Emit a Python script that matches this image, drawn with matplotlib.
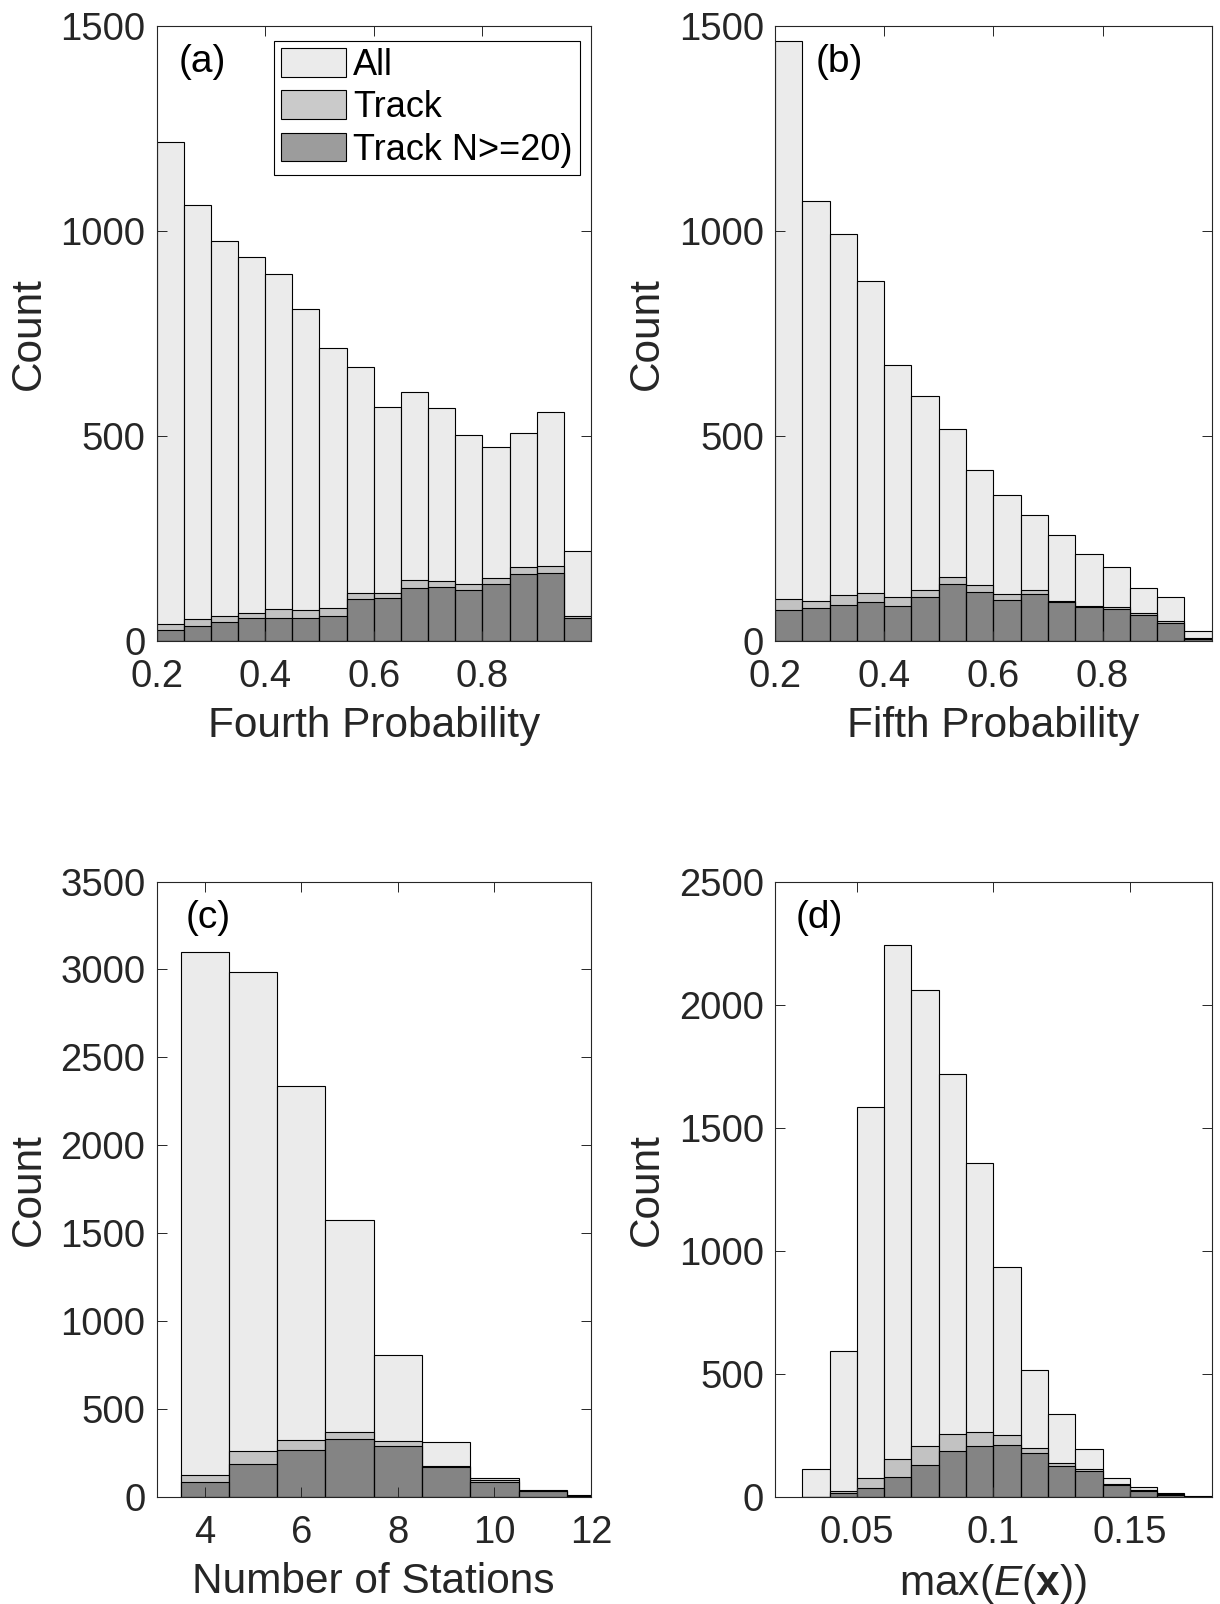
import matplotlib
matplotlib.use("Agg")
import matplotlib.pyplot as plt
import numpy as np

plt.rcParams['font.family'] = ['Liberation Sans', 'DejaVu Sans']
plt.rcParams['mathtext.fontset'] = 'custom'
plt.rcParams['mathtext.rm'] = 'Liberation Sans'
plt.rcParams['mathtext.it'] = 'Liberation Sans:italic'
plt.rcParams['mathtext.bf'] = 'Liberation Sans:bold'

# bin edges
edges_p4 = np.arange(0.2, 1.0001, 0.05)
edges_p5 = np.arange(0.2, 1.0001, 0.05)
edges_sta = np.arange(3.5, 12.51, 1.0)
edges_err = np.arange(0.03, 0.1801, 0.01)

# fourth probability
all_p4 = [1215, 1063, 976, 937, 894, 808, 713, 668, 570, 606, 567, 502, 472, 506, 557, 219]
track_p4 = [42, 53, 61, 69, 78, 76, 81, 118, 116, 149, 147, 139, 154, 180, 182, 60]
n20_p4 = [27, 37, 46, 57, 55, 55, 62, 103, 105, 128, 132, 125, 140, 164, 166, 57]

# fifth probability
all_p5 = [1462, 1073, 991, 877, 673, 597, 516, 416, 355, 306, 258, 212, 181, 130, 106, 25]
track_p5 = [103, 98, 111, 116, 106, 123, 155, 136, 114, 123, 98, 86, 83, 67, 49, 8]
n20_p5 = [75, 81, 88, 95, 84, 108, 139, 119, 100, 115, 95, 82, 77, 63, 43, 5]

# number of stations (4..12)
all_sta = [3100, 2985, 2337, 1576, 810, 313, 110, 42, 9]
track_sta = [128, 259, 327, 367, 319, 177, 95, 37, 6]
n20_sta = [83, 190, 270, 329, 289, 171, 87, 34, 5]

# max(E(x))
all_err = [115, 592, 1584, 2242, 2059, 1719, 1355, 934, 514, 338, 195, 76, 41, 15, 5]
track_err = [0, 24, 76, 156, 206, 257, 264, 253, 200, 139, 112, 53, 30, 11, 2]
n20_err = [0, 16, 38, 83, 130, 187, 206, 210, 177, 127, 106, 47, 23, 9, 1]

series_names = ['All', 'Track', 'Track N>=20)']
shades = [0.875, 0.66, 0.355]
face_alpha = 0.6
txt = '#262626'


def draw_hist(ax, edges, counts_list):
    widths = np.diff(edges)
    handles = []
    for counts, shade, name in zip(counts_list, shades, series_names):
        bars = ax.bar(edges[:-1], counts, width=widths, align='edge',
                      facecolor=(shade, shade, shade, face_alpha),
                      edgecolor='k', linewidth=0.8, label=name)
        handles.append(bars)
    return handles


def style_axes(ax, xlim, xticks, xticklabels, ylim, yticks, xlabel, tag, tag_x):
    ax.set_xlim(*xlim)
    ax.set_ylim(*ylim)
    ax.set_xticks(xticks)
    ax.set_xticklabels(xticklabels)
    ax.set_yticks(yticks)
    ax.tick_params(direction='in', length=7, width=0.7, top=True, right=True,
                   labelsize=27.5, colors=txt)
    ax.tick_params(axis='x', pad=13)
    ax.tick_params(axis='y', pad=8)
    for sp in ax.spines.values():
        sp.set_linewidth(0.8)
        sp.set_color(txt)
    ax.set_xlabel(xlabel, fontsize=30.5, color=txt)
    ax.set_ylabel('Count', fontsize=30.5, color=txt)
    ax.xaxis.set_label_coords(0.5, -0.106)
    ax.yaxis.set_label_coords(-0.248, 0.5)
    ax.text(tag_x, 0.94, tag, transform=ax.transAxes, fontsize=28,
            ha='left', va='center', color='k')


fig = plt.figure(figsize=(12.2, 16.04), dpi=100)
ax_a = fig.add_axes([0.1283, 0.6004, 0.3561, 0.3837])
ax_b = fig.add_axes([0.6352, 0.6004, 0.3580, 0.3837])
ax_c = fig.add_axes([0.1283, 0.0667, 0.3561, 0.3837])
ax_d = fig.add_axes([0.6352, 0.0667, 0.3580, 0.3837])

handles = draw_hist(ax_a, edges_p4, [all_p4, track_p4, n20_p4])
style_axes(ax_a, (0.2, 1.0), [0.2, 0.4, 0.6, 0.8], ['0.2', '0.4', '0.6', '0.8'],
           (0, 1500), [0, 500, 1000, 1500], 'Fourth Probability', '(a)', 0.052)
leg = ax_a.legend(handles=handles, loc='upper right', bbox_to_anchor=(0.9745, 0.975),
                  borderaxespad=0, fontsize=26, fancybox=False, edgecolor='k',
                  framealpha=1, handlelength=1.8, handleheight=0.85,
                  labelspacing=0.2, handletextpad=0.2, borderpad=0.2)
leg.get_frame().set_linewidth(0.8)

draw_hist(ax_b, edges_p5, [all_p5, track_p5, n20_p5])
style_axes(ax_b, (0.2, 1.0), [0.2, 0.4, 0.6, 0.8], ['0.2', '0.4', '0.6', '0.8'],
           (0, 1500), [0, 500, 1000, 1500], 'Fifth Probability', '(b)', 0.094)

draw_hist(ax_c, edges_sta, [all_sta, track_sta, n20_sta])
style_axes(ax_c, (3, 12), [4, 6, 8, 10, 12], ['4', '6', '8', '10', '12'],
           (0, 3500), np.arange(0, 3501, 500), 'Number of Stations', '(c)', 0.066)

draw_hist(ax_d, edges_err, [all_err, track_err, n20_err])
style_axes(ax_d, (0.02, 0.18), [0.05, 0.1, 0.15], ['0.05', '0.1', '0.15'],
           (0, 2500), np.arange(0, 2501, 500), r'max($\mathit{E}$($\mathbf{x}$))', '(d)', 0.047)

fig.savefig('out.png', dpi=100)
